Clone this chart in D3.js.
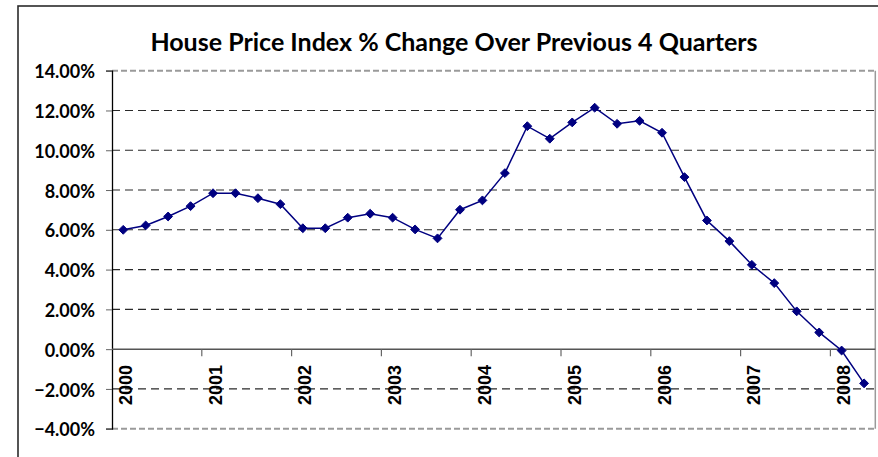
<!DOCTYPE html>
<html>
<head>
<meta charset="utf-8">
<script src="https://cdn.jsdelivr.net/npm/d3@7"></script>
<style>
  html, body { margin: 0; padding: 0; background: #fff; }
  svg { display: block; }
</style>
</head>
<body>
<svg id="chart" width="878" height="457"></svg>
<script>
// ---- data ----
const title = "House Price Index % Change Over Previous 4 Quarters";
const years = ["2000","2001","2002","2003","2004","2005","2006","2007","2008"];
const quarters = ["Q1","Q2","Q3","Q4"];
const hpiChange = [
  6.00, 6.22, 6.67, 7.19,   // 2000
  7.84, 7.84, 7.59, 7.29,   // 2001
  6.08, 6.08, 6.61, 6.81,   // 2002
  6.61, 6.02, 5.57, 7.01,   // 2003
  7.48, 8.85, 11.21, 10.58, // 2004
  11.40, 12.14, 11.33, 11.48, // 2005
  10.88, 8.65, 6.47, 5.43,  // 2006
  4.24, 3.32, 1.90, 0.84,   // 2007
  -0.07, -1.72              // 2008
];
const yTicks = [-4, -2, 0, 2, 4, 6, 8, 10, 12, 14];

// categories
const categories = [];
years.forEach(y => quarters.forEach(q => categories.push(y + " " + q)));
const cats = categories.slice(0, hpiChange.length);
const data = cats.map((c, i) => ({ cat: c, v: hpiChange[i] }));

// ---- layout ----
const svg = d3.select("#chart");
const plot = { left: 112, right: 875.3, top: 70.7, bottom: 428.7 };

const x = d3.scaleBand().domain(cats).range([plot.left, plot.right]).paddingInner(0).paddingOuter(0);
const y = d3.scaleLinear().domain([-4, 14]).range([plot.bottom, plot.top]);
const cx = c => x(c) + x.bandwidth() / 2;

// outer chart border
svg.append("rect")
  .attr("x", 18).attr("y", 6).attr("width", 1000).attr("height", 600)
  .attr("fill", "none").attr("stroke", "#2b2b2b").attr("stroke-width", 1.6);

// title
svg.append("text")
  .attr("x", 454).attr("y", 51)
  .attr("text-anchor", "middle")
  .style("font-family", "Lato, 'Open Sans', sans-serif")
  .style("font-weight", "bold")
  .style("font-size", "25px")
  .attr("fill", "#000")
  .text(title);

// gridlines (inner)
const g = svg.append("g");
g.selectAll("line.grid")
  .data(yTicks.filter(t => t !== 0 && t !== -4 && t !== 14))
  .join("line").attr("class", "grid")
  .attr("x1", plot.left).attr("x2", plot.right)
  .attr("y1", d => y(d)).attr("y2", d => y(d))
  .attr("stroke", "#2a2a2a").attr("stroke-width", 1.1)
  .attr("stroke-dasharray", "8,5");

// plot area border (top/bottom dashed gray, right solid gray)
g.selectAll("line.edge")
  .data([14, -4])
  .join("line").attr("class", "edge")
  .attr("x1", plot.left).attr("x2", plot.right)
  .attr("y1", d => y(d)).attr("y2", d => y(d))
  .attr("stroke", "#9a9a9a").attr("stroke-width", 2)
  .attr("stroke-dasharray", "6,3");
g.append("line")
  .attr("x1", plot.right).attr("x2", plot.right)
  .attr("y1", y(14)).attr("y2", y(-4))
  .attr("stroke", "#9a9a9a").attr("stroke-width", 1.5);

// y axis
const yAxis = d3.axisLeft(y).tickValues(yTicks).tickSize(6)
  .tickFormat(d => d3.format(".2f")(d) + "%");
const ya = svg.append("g").attr("transform", `translate(${plot.left},0)`).call(yAxis);
ya.select(".domain").attr("stroke", "#000").attr("stroke-width", 1.3);
ya.selectAll(".tick line").attr("stroke", "#666");
ya.selectAll(".tick text")
  .attr("x", -17).attr("dy", "0.62em").attr("y", -4)
  .style("font-family", "Lato, 'Open Sans', sans-serif")
  .style("font-weight", "bold")
  .style("font-size", "18px")
  .attr("fill", "#000");

// x axis along zero
const yearStarts = cats.filter((c, i) => i % 4 === 0);
const zeroY = y(0);
svg.append("line")
  .attr("x1", plot.left).attr("x2", plot.right)
  .attr("y1", zeroY).attr("y2", zeroY)
  .attr("stroke", "#555").attr("stroke-width", 1.5);
svg.selectAll("line.xtick")
  .data(yearStarts.slice(1))
  .join("line").attr("class", "xtick")
  .attr("x1", d => x(d)).attr("x2", d => x(d))
  .attr("y1", zeroY).attr("y2", zeroY + 7)
  .attr("stroke", "#666").attr("stroke-width", 1.2);
svg.selectAll("text.xlab")
  .data(yearStarts)
  .join("text").attr("class", "xlab")
  .attr("transform", d => `translate(${cx(d) + 2},365) rotate(-90)`)
  .attr("text-anchor", "end")
  .attr("dy", "0.36em")
  .style("font-family", "'Liberation Sans', Arial, sans-serif")
  .style("font-weight", "bold")
  .style("font-size", "18px")
  .attr("fill", "#000")
  .text(d => d.split(" ")[0]);

// line
const line = d3.line().x(d => cx(d.cat)).y(d => y(d.v));
svg.append("path").datum(data)
  .attr("d", line)
  .attr("fill", "none").attr("stroke", "#000080").attr("stroke-width", 1.5);

// markers
svg.selectAll("path.mk")
  .data(data)
  .join("path").attr("class", "mk")
  .attr("d", d3.symbol().type(d3.symbolDiamond2).size(50))
  .attr("transform", d => `translate(${cx(d.cat)},${y(d.v)})`)
  .attr("fill", "#000080").attr("stroke", "#000080").attr("stroke-width", 1);
</script>
</body>
</html>
